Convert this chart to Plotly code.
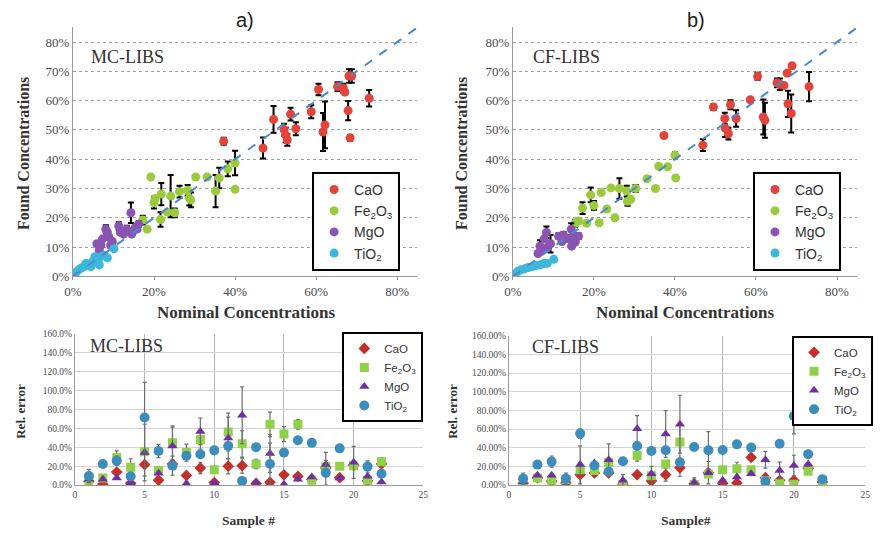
import plotly.graph_objects as go

# ---------------- top panels: found vs nominal concentration (percent) ----------------
# a) MC-LIBS
cao_a_x = [37.2, 46.9, 49.5, 52.1, 52.5, 52.9, 53.7, 55.0, 58.8, 60.6, 61.7, 62.2, 65.3, 66.7, 67.1, 67.9, 68.1, 68.8, 68.4, 73.1]
cao_a_y = [46.1, 43.8, 53.6, 50.1, 48.2, 46.6, 55.4, 50.4, 56.2, 63.8, 49.3, 51.7, 64.8, 64.3, 62.9, 56.6, 68.4, 68.4, 47.3, 60.8]
cao_a_e = [1.2, 3.6, 4.6, 2.0, 2.5, 2.0, 2.2, 2.2, 2.2, 2.0, 6.5, 8.0, 1.5, 1.5, 0, 3.3, 2.3, 2.3, 1.0, 2.8]

fe_a_x = [17.2, 18.3, 19.2, 20.0, 20.3, 21.6, 21.8, 23.3, 24.1, 25.1, 26.3, 28.3, 28.7, 29.1, 30.3, 33.1, 35.2, 36.1, 38.2, 40.0, 40.0]
fe_a_y = [19.2, 16.1, 33.9, 25.2, 26.6, 19.4, 28.1, 21.9, 27.4, 21.7, 28.9, 29.4, 26.7, 26.1, 33.9, 33.9, 29.1, 33.6, 36.7, 38.7, 29.7]
fe_a_e = [1.5, 0, 0, 2.0, 0, 2.5, 3.8, 0, 7.2, 1.5, 2.0, 1.8, 2.5, 2.5, 0, 0, 5.5, 3.5, 2.5, 4.2, 0]

mg_a_x = [5.9, 6.5, 6.9, 7.3, 8.1, 8.5, 8.9, 9.3, 9.7, 11.3, 11.7, 12.5, 13.3, 14.3, 14.5, 15.4, 15.8, 16.2]
mg_a_y = [11.1, 8.9, 10.6, 12.8, 16.1, 15.0, 13.3, 10.6, 11.9, 17.2, 15.0, 14.4, 16.1, 21.7, 14.4, 16.7, 16.1, 17.8]
mg_a_e = [0, 0, 0, 0, 1.3, 0, 0, 0, 0, 1.3, 0, 0, 1.2, 3.5, 0, 0, 0, 1.0]

ti_a_x = [0.4, 0.8, 1.4, 2.0, 2.7, 3.2, 4.0, 4.4, 4.8, 5.4, 6.1, 6.5, 6.9, 7.7, 8.5, 10.1]
ti_a_y = [0.8, 1.4, 2.2, 2.8, 3.3, 4.4, 3.9, 3.3, 5.0, 6.7, 5.0, 3.9, 6.7, 7.2, 6.3, 9.4]

# b) CF-LIBS
cao_b_x = [37.3, 46.9, 49.5, 52.3, 52.4, 53.2, 53.7, 55.1, 58.6, 60.4, 61.8, 62.2, 65.2, 65.9, 66.9, 67.7, 67.9, 68.7, 68.9, 73.1]
cao_b_y = [48.1, 44.8, 57.8, 53.9, 50.6, 48.7, 58.6, 53.9, 60.3, 68.3, 54.4, 53.3, 66.1, 65.6, 65.2, 69.4, 58.9, 55.6, 71.9, 64.8]
cao_b_e = [0, 2.0, 1.0, 2.0, 3.0, 2.0, 1.5, 2.8, 0, 1.2, 6.0, 6.0, 1.5, 2.0, 0, 0, 4.5, 6.5, 0, 5.0]

fe_b_x = [15.4, 16.2, 17.2, 18.2, 19.2, 20.0, 21.3, 21.8, 23.2, 24.2, 25.2, 26.3, 28.1, 28.3, 29.1, 30.3, 33.1, 35.2, 36.0, 38.2, 40.0, 40.2]
fe_b_y = [18.1, 18.9, 23.3, 18.1, 27.8, 24.2, 18.3, 28.6, 23.0, 30.2, 20.0, 30.0, 29.1, 25.6, 26.3, 30.0, 33.3, 30.0, 37.6, 37.4, 41.4, 33.6]
fe_b_e = [1.2, 0, 2.0, 0, 2.5, 1.5, 0, 0, 0, 0, 0, 3.5, 1.8, 1.5, 0, 1.2, 0, 0, 0, 0, 1.0, 0]

mg_b_x = [6.2, 6.7, 7.0, 7.7, 8.3, 8.6, 9.3, 11.3, 12.1, 12.5, 13.7, 14.4, 14.5, 14.9, 15.4, 16.2]
mg_b_y = [7.8, 10.3, 8.9, 12.8, 15.0, 10.0, 11.1, 13.7, 11.9, 14.1, 12.8, 16.1, 10.3, 13.9, 11.7, 13.7]
mg_b_e = [0, 2.0, 0, 0, 2.0, 0, 3.0, 1.0, 0, 1.0, 0, 2.0, 0, 0, 0, 1.0]

ti_b_x = [0.6, 1.2, 2.0, 3.0, 3.8, 4.8, 5.7, 6.7, 7.7, 8.5, 10.1]
ti_b_y = [0.8, 1.7, 2.2, 2.6, 3.0, 3.3, 3.7, 3.9, 4.4, 4.4, 5.8]

identity_line = [0, 85]

# ---------------- bottom panels: relative error per sample (percent) ----------------
samples = list(range(1, 23))

mc_cao = [4.1, 1.0, 13.8, 2.0, 21.7, 5.2, 22.4, 10.3, 18.2, 2.8, 20.0, 20.6, 1.7, 3.0, 11.0, 9.3, 6.0, 18.0, 7.9, 21.0, 4.5, 22.4]
mc_fe = [5.2, 7.6, 29.2, 18.9, 35.4, 15.5, 44.7, 34.4, 48.2, 16.2, 56.1, 43.7, 22.4, 64.3, 54.0, 64.3, 5.2, 19.6, 20.0, 20.6, 5.2, 24.8]
mc_mg = [6.2, 6.2, 7.6, 2.4, 34.4, 12.7, 41.3, 1.7, 56.8, 2.4, 49.9, 74.0, 3.4, 33.4, 1.0, 6.2, 8.6, 21.7, 7.6, 24.1, 9.3, 3.4]
mc_ti = [9.6, 22.4, 25.8, 9.3, 71.6, 36.1, 20.6, 31.0, 32.7, 36.8, 41.3, 4.5, 40.2, 22.4, 34.4, 47.5, 44.7, 13.1, 38.9, 89.4, 19.6, 12.0]
mc_cao_e = [0, 0, 0, 0, 12, 0, 0, 0, 6, 0, 8, 8, 0, 0, 0, 0, 0, 0, 0, 0, 0, 0]
mc_fe_e = [0, 0, 7, 9, 0, 0, 18, 9, 10, 0, 20, 14, 5, 13, 8, 5, 0, 0, 0, 0, 0, 4]
mc_mg_e = [0, 0, 0, 0, 30, 0, 20, 0, 14, 0, 22, 30, 0, 20, 0, 0, 0, 13, 0, 17, 0, 0]
mc_ti_e = [7, 0, 5, 0, 37, 7, 10, 0, 0, 0, 0, 0, 0, 22, 0, 0, 0, 13, 0, 0, 6, 0]

cf_cao = [2.0, 8.0, 4.2, 2.4, 11.2, 13.0, 13.0, 1.0, 11.2, 4.5, 11.2, 18.5, 1.5, 13.3, 1.7, 2.4, 29.7, 8.0, 5.2, 5.2, 18.0, 3.5]
cf_fe = [1.7, 7.7, 5.2, 6.0, 16.4, 15.7, 24.5, 1.0, 31.8, 10.0, 22.7, 46.1, 1.0, 12.0, 16.4, 17.5, 16.4, 5.0, 1.7, 1.0, 15.0, 5.0]
cf_mg = [3.5, 10.5, 10.5, 5.0, 22.0, 23.8, 27.2, 5.2, 60.4, 12.2, 54.8, 65.3, 2.8, 13.3, 5.2, 8.7, 12.2, 27.2, 15.7, 21.0, 22.7, 5.0]
cf_ti = [7.0, 22.0, 25.2, 7.0, 55.2, 21.0, 14.7, 25.5, 41.9, 36.7, 37.4, 24.5, 40.9, 37.4, 37.7, 43.7, 40.2, 4.2, 44.4, 74.0, 33.2, 6.3]
cf_cao_e = [0, 0, 0, 0, 10, 0, 0, 0, 0, 0, 7, 9, 0, 12, 0, 0, 0, 0, 0, 0, 0, 0]
cf_fe_e = [0, 0, 0, 0, 0, 0, 0, 0, 6, 0, 0, 20, 0, 0, 0, 7, 0, 0, 0, 0, 0, 0]
cf_mg_e = [0, 0, 0, 0, 20, 0, 17, 6, 14, 8, 25, 31, 5, 0, 0, 0, 0, 9, 9, 11, 0, 0]
cf_ti_e = [6, 0, 6, 6, 5, 3, 0, 0, 0, 0, 0, 0, 0, 20, 0, 0, 0, 0, 0, 19, 0, 0]

names = ["CaO", "Fe<sub>2</sub>O<sub>3</sub>", "MgO", "TiO<sub>2</sub>"]
top_colors = ["#E2443C", "#9BCB3C", "#8A55B2", "#3DB7DA"]
bot_colors = ["#C0312B", "#8FD24A", "#7030A0", "#3C8DBB"]
bot_symbols = ["diamond", "square", "triangle-up", "circle"]

SERIF = "Liberation Serif, Times New Roman, serif"
SANS = "Liberation Sans, Arial, sans-serif"


def pct(vals):
    return [v / 100 for v in vals]


fig = go.Figure()

# ---- top panels ----
top_sets = [
    ("x", "y", "legend",
     [(cao_a_x, cao_a_y, cao_a_e), (fe_a_x, fe_a_y, fe_a_e), (mg_a_x, mg_a_y, mg_a_e), (ti_a_x, ti_a_y, None)]),
    ("x2", "y2", "legend2",
     [(cao_b_x, cao_b_y, cao_b_e), (fe_b_x, fe_b_y, fe_b_e), (mg_b_x, mg_b_y, mg_b_e), (ti_b_x, ti_b_y, None)]),
]
for xa, ya, leg, series in top_sets:
    for i, (sx, sy, se) in enumerate(series):
        err = None
        if se is not None:
            err = dict(type="data", array=pct(se), visible=True, color="black",
                       thickness=2, width=3)
        fig.add_trace(go.Scatter(
            x=pct(sx), y=pct(sy), mode="markers", name=names[i],
            marker=dict(color=top_colors[i], size=9),
            error_y=err, xaxis=xa, yaxis=ya, legend=leg))
    fig.add_trace(go.Scatter(
        x=pct(identity_line), y=pct(identity_line), mode="lines",
        line=dict(color="#4A88CC", width=2, dash="dash"),
        showlegend=False, xaxis=xa, yaxis=ya, hoverinfo="skip"))

# ---- bottom panels ----
bot_sets = [
    ("x3", "y3", "legend3",
     [(mc_cao, mc_cao_e), (mc_fe, mc_fe_e), (mc_mg, mc_mg_e), (mc_ti, mc_ti_e)]),
    ("x4", "y4", "legend4",
     [(cf_cao, cf_cao_e), (cf_fe, cf_fe_e), (cf_mg, cf_mg_e), (cf_ti, cf_ti_e)]),
]
for xa, ya, leg, series in bot_sets:
    for i, (sv, se) in enumerate(series):
        fig.add_trace(go.Scatter(
            x=samples, y=pct(sv), mode="markers", name=names[i],
            marker=dict(color=bot_colors[i], size=10 if i == 3 else 9,
                        symbol=bot_symbols[i]),
            error_y=dict(type="data", array=pct(se), visible=True,
                         color="#6E6E6E", thickness=1.2, width=2),
            xaxis=xa, yaxis=ya, legend=leg))

W, H = 880, 539


def px_x(p):
    return p / W


def px_y(p):
    return 1 - p / H


tick_font_top = dict(family=SERIF, size=13, color="#4A4A4A")
tick_font_bot = dict(family=SERIF, size=9.5, color="#4A4A4A")

top_x = dict(range=[0, 0.85], tickvals=[0, 0.2, 0.4, 0.6, 0.8], tickformat=".0%",
             showgrid=False, zeroline=False, showline=True, linecolor="#9A9A9A",
             linewidth=1, ticks="outside", ticklen=3, tickcolor="#9A9A9A",
             tickfont=tick_font_top)
top_y = dict(range=[0, 0.85], tickvals=[i / 10 for i in range(9)], tickformat=".0%",
             showgrid=True, gridcolor="#A0A0A0", griddash="dot", gridwidth=1,
             zeroline=False, showline=True, linecolor="#9A9A9A", linewidth=1,
             tickfont=tick_font_top)
bot_x = dict(range=[0, 25], dtick=5, tick0=0, showgrid=True, gridcolor="#B4B4B4",
             zeroline=False, showline=True, linecolor="#9A9A9A", linewidth=1,
             tickfont=tick_font_bot)
bot_y = dict(range=[0, 1.6], dtick=0.2, showgrid=True, gridcolor="#D4D4D4",
             zeroline=False, showline=True, linecolor="#9A9A9A", linewidth=1,
             tickfont=tick_font_bot)

legend_style = dict(bgcolor="white", bordercolor="black", borderwidth=2, yanchor="top")

fig.update_layout(
    width=W, height=H, margin=dict(l=0, r=0, t=0, b=0),
    paper_bgcolor="white", plot_bgcolor="white",
    xaxis=dict(domain=[px_x(65), px_x(415)], anchor="y", **top_x),
    yaxis=dict(domain=[px_y(278), px_y(23)], anchor="x", **top_y),
    xaxis2=dict(domain=[px_x(512), px_x(862)], anchor="y2", **top_x),
    yaxis2=dict(domain=[px_y(278), px_y(23)], anchor="x2", **top_y),
    xaxis3=dict(domain=[px_x(67), px_x(421)], anchor="y3", **bot_x),
    yaxis3=dict(domain=[px_y(492), px_y(337)], anchor="x3", tickformat=".1%", **bot_y),
    xaxis4=dict(domain=[px_x(508), px_x(870)], anchor="y4", **bot_x),
    yaxis4=dict(domain=[px_y(492), px_y(339)], anchor="x4", tickformat=".2%", **bot_y),
    legend=dict(x=px_x(308), y=px_y(171), xanchor="left",
                font=dict(family=SANS, size=14, color="#333"), **legend_style),
    legend2=dict(x=px_x(756), y=px_y(171), xanchor="left",
                 font=dict(family=SANS, size=14, color="#333"), **legend_style),
    legend3=dict(x=px_x(421), y=px_y(335), xanchor="right",
                 font=dict(family=SANS, size=11.5, color="#333"), **legend_style),
    legend4=dict(x=px_x(878), y=px_y(339), xanchor="right",
                 font=dict(family=SANS, size=11.5, color="#333"), **legend_style),
    showlegend=True,
)

annotations = [
    # panel letters
    dict(text="a)", x=px_x(240), y=px_y(15), font=dict(family=SANS, size=20, color="#222")),
    dict(text="b)", x=px_x(698), y=px_y(15), font=dict(family=SANS, size=20, color="#222")),
    # method labels
    dict(text="MC-LIBS", x=px_x(120), y=px_y(53), font=dict(family=SERIF, size=18, color="#333")),
    dict(text="CF-LIBS", x=px_x(567), y=px_y(53), font=dict(family=SERIF, size=18, color="#333")),
    dict(text="MC-LIBS", x=px_x(119), y=px_y(349), font=dict(family=SERIF, size=18, color="#333")),
    dict(text="CF-LIBS", x=px_x(566), y=px_y(350), font=dict(family=SERIF, size=18, color="#333")),
    # axis titles
    dict(text="<b>Found Concentrations</b>", x=px_x(15), y=px_y(152), textangle=-90,
         font=dict(family=SERIF, size=16, color="#333")),
    dict(text="<b>Found Concentrations</b>", x=px_x(460), y=px_y(152), textangle=-90,
         font=dict(family=SERIF, size=16, color="#333")),
    dict(text="<b>Nominal Concentrations</b>", x=px_x(241), y=px_y(315),
         font=dict(family=SERIF, size=17, color="#333")),
    dict(text="<b>Nominal Concentrations</b>", x=px_x(687), y=px_y(315),
         font=dict(family=SERIF, size=17, color="#333")),
    dict(text="<b>Rel. error</b>", x=px_x(12), y=px_y(416), textangle=-90,
         font=dict(family=SERIF, size=13, color="#333")),
    dict(text="<b>Rel. error</b>", x=px_x(451), y=px_y(416), textangle=-90,
         font=dict(family=SERIF, size=13, color="#333")),
    dict(text="<b>Sample #</b>", x=px_x(243), y=px_y(528),
         font=dict(family=SERIF, size=13.5, color="#333")),
    dict(text="<b>Sample#</b>", x=px_x(688), y=px_y(528),
         font=dict(family=SERIF, size=13.5, color="#333")),
]
for a in annotations:
    a.update(xref="paper", yref="paper", showarrow=False, xanchor="center", yanchor="middle")
fig.update_layout(annotations=annotations)

fig.write_html("out.html")
